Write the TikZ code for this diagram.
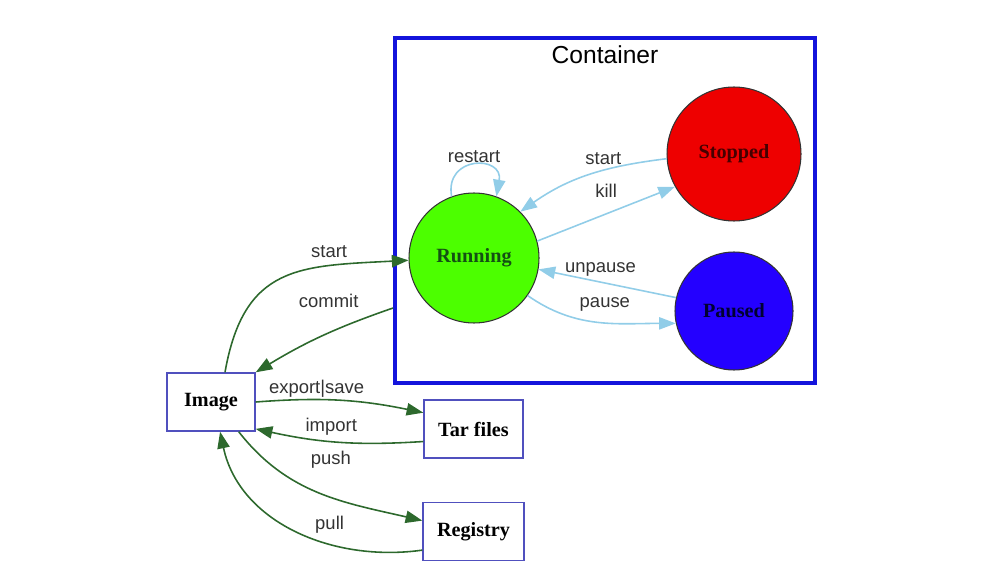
\documentclass[tikz,border=0pt]{standalone}
\usepackage{fontspec}
\setmainfont{Liberation Serif}
\setsansfont{Liberation Sans}
\usepackage{tikz}
\usetikzlibrary{arrows.meta}
\usetikzlibrary{positioning}

\definecolor{runfill}{RGB}{76,255,0}
\definecolor{runtext}{RGB}{20,80,20}
\definecolor{stopfill}{RGB}{238,0,0}
\definecolor{stoptext}{RGB}{70,0,0}
\definecolor{pausefill}{RGB}{36,0,255}
\definecolor{pausetext}{RGB}{0,0,50}
\definecolor{clusterblue}{RGB}{20,20,220}
\definecolor{boxblue}{RGB}{80,80,190}
\definecolor{dockgreen}{RGB}{45,105,45}
\definecolor{lifeblue}{RGB}{145,205,232}

\begin{document}
\begin{tikzpicture}[x=0.02cm,y=0.02cm,->,>={Triangle[length=9.5pt,width=7pt]},
  state/.style={circle,draw=black!80,line width=0.6pt,inner sep=0pt,
    font=\bfseries\fontsize{11.5}{13}\selectfont},
  store/.style={rectangle,draw=boxblue,line width=0.8pt,fill=white,inner sep=0pt,
    minimum height=1.16cm,font=\bfseries\fontsize{11.5}{13}\selectfont},
  cluster/.style={rectangle,draw=clusterblue,line width=2.3pt,
    minimum width=8.4cm,minimum height=6.9cm},
  lbl/.style={font=\sffamily\fontsize{10.5}{12}\selectfont,text=black!80,inner sep=1pt},
  dock/.style={draw=dockgreen,line width=0.9pt,color=dockgreen},
  life/.style={draw=lifeblue,line width=0.9pt,color=lifeblue}]

  \useasboundingbox (0,0) rectangle (994,586);

  % container cluster
  \node[cluster] (container) at (605,375.5) {};
  \node[font=\sffamily\fontsize{14}{16}\selectfont] (title) at (605,531) {Container};

  \node[state,fill=runfill,text=runtext,minimum size=2.6cm] (running) at (474,328) {Running};
  \node[state,fill=stopfill,text=stoptext,minimum size=2.68cm] (stopped) at (734,432) {Stopped};
  \node[state,fill=pausefill,text=pausetext,minimum size=2.36cm] (paused) at (734,275) {Paused};

  \node[store,minimum width=1.76cm] (image) at (211,184) {Image};
  \node[store,minimum width=1.98cm] (tar) at (473.5,157) {Tar files};
  \node[store,minimum width=2.02cm] (registry) at (473.5,54.5) {Registry};
  \coordinate (ctail) at (393,278);

  % image side
  \path ([xshift=0.28cm]image.north) edge [dock,out=80,in=183,looseness=1.3]
    node [lbl,pos=.72,above=3pt] {start} (running.182);
  \path (ctail) edge [dock,bend right=6] node [lbl,pos=.45,above=.45cm] {commit} (image.north east);
  \path (image.east) edge [dock,bend left=8] node [lbl,pos=.35,above] {export|save} (tar.162);
  \path (tar.194) edge [dock,bend left=8] node [lbl,pos=.55,above=2pt] {import} (image.-31);
  \path (image.-47) edge [dock,out=-52,in=167] node [lbl,pos=.56,above=.53cm] {push} (registry.168);
  \path (registry.200) edge [dock,out=188,in=-78] node [lbl,pos=.35,above=.15cm] {pull} (image.-73);

  % container states
  \path (running.110) edge [life,out=100,in=80,looseness=2.4] node [lbl,above] {restart} (running.70);
  \path (stopped.184) edge [life,out=187,in=35] node [lbl,pos=.4,above=2pt] {start} (running.45);
  \path (running.15) edge [life] node [lbl,pos=.5,above=.28cm] {kill} (stopped.209);
  \path (paused.167) edge [life] node [lbl,pos=.55,above=2pt] {unpause} (running.-10);
  \path (running.-35) edge [life,out=-35,in=180] node [lbl,pos=.55,above=.18cm] {pause} (paused.192);
\end{tikzpicture}
\end{document}
